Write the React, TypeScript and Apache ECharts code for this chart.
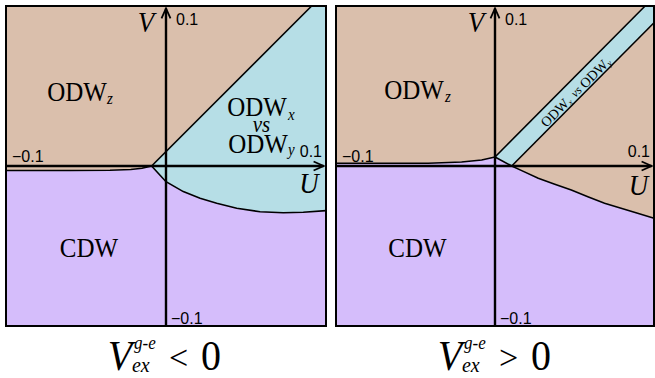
import { useEffect, useRef } from 'react';
import * as echarts from 'echarts';

// ---------- axis extents & ticks ----------
const AXIS_MIN = -0.1;
const AXIS_MAX = 0.1;
const AXIS_STEP = 0.1;
const TICK_VALUES = [-0.1, 0.1];
const TICK_LABELS = ['−0.1', '0.1'];
const ARROW_TIP = 0.0985;

// ---------- left panel (V_ex^{g-e} < 0) ----------
// ODW_z / CDW boundary, left edge -> triple point
const leftZBoundary: number[][] = [
  [-0.1, -0.0028], [-0.06, -0.0028], [-0.035, -0.0027], [-0.022, -0.0022], [-0.015, -0.0014], [-0.009, 0],
];
// ODW_z / (ODW_x vs ODW_y) straight boundary
const leftDiagonal: number[][] = [[-0.009, 0], [0.091, 0.1]];
// (ODW_x vs ODW_y) / CDW curve, triple point -> right edge
const leftCurve: number[][] = [
  [-0.009, 0], [-0.005, -0.0044], [0, -0.0098], [0.0108, -0.016], [0.0213, -0.0202], [0.0317, -0.0233],
  [0.0442, -0.0264], [0.0588, -0.0286], [0.0733, -0.0292], [0.0858, -0.0289], [0.1, -0.0279],
];

// ---------- right panel (V_ex^{g-e} > 0) ----------
const rightZBoundary: number[][] = [
  [-0.1, 0.0017], [-0.042, 0.0017], [-0.021, 0.0025], [-0.0084, 0.0037], [0, 0.0056],
];
const stripUpper: number[][] = [[0, 0.0056], [0.0944, 0.1]];
const stripLower: number[][] = [[0.0105, 0], [0.1, 0.0895]];
const rightCurve: number[][] = [
  [0.0105, 0], [0.0168, -0.0029], [0.0272, -0.0077], [0.0376, -0.0114], [0.048, -0.015], [0.0584, -0.0192],
  [0.0689, -0.0233], [0.0793, -0.0264], [0.0897, -0.0296], [0.1, -0.0326],
];

const TAN = '#dabfac';
const BLUE = '#b6dee6';
const PURPLE = '#d5bdfb';

const TL = [AXIS_MIN, AXIS_MAX];
const TR = [AXIS_MAX, AXIS_MAX];
const BR = [AXIS_MAX, AXIS_MIN];
const BL = [AXIS_MIN, AXIS_MIN];
const rev = (a: number[][]) => a.slice().reverse();

const leftRegions = [
  { color: TAN, pts: [TL, leftDiagonal[1], ...rev(leftZBoundary)] },
  { color: BLUE, pts: [leftDiagonal[1], TR, ...rev(leftCurve)] },
  { color: PURPLE, pts: [...leftZBoundary, ...leftCurve.slice(1), BR, BL] },
];
const leftLines = [leftZBoundary, leftDiagonal, leftCurve];

const rightRegions = [
  { color: TAN, pts: [TL, stripUpper[1], ...rev(rightZBoundary)] },
  { color: BLUE, pts: [stripUpper[0], stripUpper[1], TR, stripLower[1], stripLower[0]] },
  { color: TAN, pts: [stripLower[0], stripLower[1], ...rev(rightCurve)] },
  { color: PURPLE, pts: [...rightZBoundary, ...rightCurve, BR, BL] },
];
const rightLines = [rightZBoundary, [stripUpper[0], stripLower[0]], stripUpper, stripLower, rightCurve];

const SERIF = "'Liberation Serif','DejaVu Serif',serif";
const SANS = "'Liberation Sans','DejaVu Sans',sans-serif";

function txt(text: string, x: number, y: number, size: number, o: any = {}) {
  const align = o.align || 'center';
  return {
    type: 'text', x, y, z: 100, silent: true,
    scaleY: o.sy ?? 1.1,
    style: {
      text, fontSize: size, fontFamily: SERIF, fontStyle: o.italic ? 'italic' : 'normal',
      fill: '#000', align, textAlign: align, verticalAlign: 'middle', textVerticalAlign: 'middle',
    },
  };
}

function regionSeries(regions: any[], idx: number) {
  return {
    type: 'custom', xAxisIndex: idx, yAxisIndex: idx, silent: true, z: 1,
    data: regions.map(() => [0, 0]),
    renderItem: (params: any, api: any) => {
      const r = regions[params.dataIndex];
      return {
        type: 'polygon',
        shape: { points: r.pts.map((p: number[]) => api.coord(p)) },
        style: { fill: r.color, stroke: r.color, lineWidth: 0.6 },
      };
    },
  };
}

function lineSeries(lines: number[][][], idx: number) {
  return {
    type: 'custom', xAxisIndex: idx, yAxisIndex: idx, silent: true, z: 2,
    data: lines.map(() => [0, 0]),
    renderItem: (params: any, api: any) => {
      const l = lines[params.dataIndex];
      return {
        type: 'polyline',
        shape: { points: l.map((p) => api.coord(p)) },
        style: { stroke: '#000', lineWidth: 1.6, fill: 'none' },
      };
    },
  };
}

function tickText(text: string, x: number, y: number, align: string, valign: string) {
  return {
    type: 'text', x, y,
    style: {
      text, fontFamily: SANS, fontSize: 16, fill: '#000',
      align, textAlign: align, verticalAlign: valign, textVerticalAlign: valign,
    },
  };
}

function axesSeries(idx: number) {
  return {
    type: 'custom', xAxisIndex: idx, yAxisIndex: idx, silent: true, z: 3,
    data: [[0, 0]],
    renderItem: (_params: any, api: any) => {
      const xs = api.coord([AXIS_MIN, 0]);
      const xe = api.coord([ARROW_TIP, 0]);
      const ys = api.coord([0, AXIS_MIN]);
      const ye = api.coord([0, ARROW_TIP]);
      const tl = api.coord(TL);
      const br = api.coord(BR);
      const s = { stroke: '#000', lineWidth: 2.4, fill: 'none' };
      const a = { stroke: '#000', lineWidth: 1.8, fill: 'none' };
      const ticks: any[] = [];
      TICK_VALUES.forEach((v, i) => {
        const label = TICK_LABELS[i];
        const px = api.coord([v, 0]);
        const py = api.coord([0, v]);
        if (v < 0) {
          ticks.push(tickText(label, px[0] + 6, px[1] - 1.5, 'left', 'bottom'));
          ticks.push(tickText(label, py[0] + 5, py[1], 'left', 'bottom'));
        } else {
          ticks.push(tickText(label, px[0] - 4, px[1] - 6.5, 'right', 'bottom'));
          ticks.push(tickText(label, py[0] + 10, py[1] + 5, 'left', 'top'));
        }
      });
      return {
        type: 'group',
        children: [
          { type: 'line', shape: { x1: xs[0], y1: xs[1], x2: xe[0], y2: xe[1] }, style: s },
          { type: 'line', shape: { x1: ys[0], y1: ys[1], x2: ye[0], y2: ye[1] }, style: s },
          { type: 'polyline', shape: { points: [[xe[0] - 10, xe[1] - 4.5], [xe[0], xe[1]], [xe[0] - 10, xe[1] + 4.5]] }, style: a },
          { type: 'polyline', shape: { points: [[ye[0] - 4.5, ye[1] + 10], [ye[0], ye[1]], [ye[0] + 4.5, ye[1] + 10]] }, style: a },
          { type: 'rect', shape: { x: tl[0], y: tl[1], width: br[0] - tl[0], height: br[1] - tl[1] }, style: { stroke: '#000', lineWidth: 2, fill: 'none' } },
          ...ticks,
        ],
      };
    },
  };
}

function xAxis(idx: number) {
  return {
    type: 'value', gridIndex: idx, min: AXIS_MIN, max: AXIS_MAX, interval: AXIS_STEP,
    axisLine: { show: false }, axisTick: { show: false }, splitLine: { show: false }, axisLabel: { show: false },
  };
}
function yAxis(idx: number) {
  return {
    type: 'value', gridIndex: idx, min: AXIS_MIN, max: AXIS_MAX, interval: AXIS_STEP,
    axisLine: { show: false }, axisTick: { show: false }, splitLine: { show: false }, axisLabel: { show: false },
  };
}

function titleParts(dx: number, rel: string) {
  return [
    txt('V', 120 + dx, 355.5, 40, { italic: true, sy: 1.05 }),
    txt('g-e', 134 + dx, 343, 17, { italic: true, align: 'left' }),
    txt('ex', 132 + dx, 364.5, 20, { italic: true, align: 'left', sy: 1.05 }),
    txt(rel, 178.5 + dx, 357.5, 34, { sy: 1 }),
    txt('0', 211 + dx, 355.5, 40, { sy: 1.05 }),
  ];
}

export default function App() {
  const ref = useRef<HTMLDivElement>(null);
  useEffect(() => {
    if (!ref.current) return;
    const chart = echarts.init(ref.current, undefined, { renderer: 'svg' });
    const graphic: any[] = [
      // left panel labels
      txt('ODW', 77, 92.5, 25), txt('z', 107, 98, 15, { italic: true, align: 'left' }),
      txt('ODW', 257, 107.5, 25), txt('x', 288, 114, 15, { italic: true, align: 'left' }),
      txt('vs', 261.5, 124, 21, { italic: true }),
      txt('ODW', 258, 144, 25), txt('y', 288, 149, 15, { italic: true, align: 'left' }),
      txt('CDW', 89, 248.5, 25),
      txt('V', 146, 22.5, 27, { italic: true }),
      txt('U', 309, 183, 27, { italic: true }),
      ...titleParts(0, '<'),
      // right panel labels
      txt('ODW', 414, 90, 25), txt('z', 445, 96, 15, { italic: true, align: 'left' }),
      txt('CDW', 417.5, 248.5, 25),
      txt('V', 476, 22.5, 27, { italic: true }),
      txt('U', 638.5, 185, 27, { italic: true }),
      ...titleParts(330, '>'),
      {
        type: 'group', x: 577, y: 91, rotation: Math.PI / 4, z: 100, silent: true,
        children: [
          txt('ODW', -48, 0, 14, { align: 'left', sy: 1 }),
          txt('x', -14.5, 3, 8.5, { italic: true, align: 'left', sy: 1 }),
          txt('vs', -6, 0, 12, { italic: true, align: 'left', sy: 1 }),
          txt('ODW', 7, 0, 14, { align: 'left', sy: 1 }),
          txt('y', 40.5, 3, 8.5, { italic: true, align: 'left', sy: 1 }),
        ],
      },
    ];
    chart.setOption({
      animation: false,
      backgroundColor: '#ffffff',
      grid: [
        { left: 6, top: 6, width: 320, height: 320, show: false },
        { left: 336, top: 6, width: 318, height: 320, show: false },
      ],
      xAxis: [xAxis(0), xAxis(1)],
      yAxis: [yAxis(0), yAxis(1)],
      series: [
        regionSeries(leftRegions, 0), lineSeries(leftLines, 0), axesSeries(0),
        regionSeries(rightRegions, 1), lineSeries(rightLines, 1), axesSeries(1),
      ],
      graphic,
    } as any);
    return () => chart.dispose();
  }, []);
  return <div ref={ref} style={{ position: 'absolute', left: 0, top: 0, width: 655, height: 378 }} />;
}
